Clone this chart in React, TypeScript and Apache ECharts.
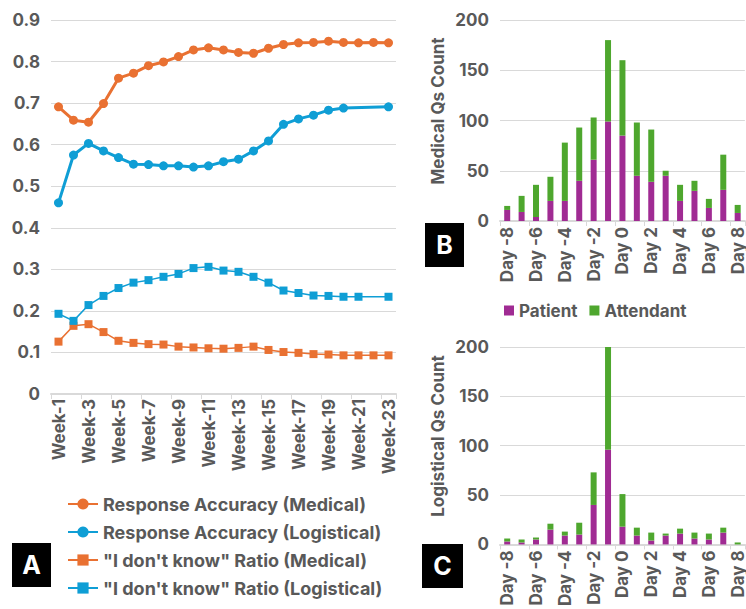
import React, { useEffect, useRef } from "react";
import * as echarts from "echarts";

const weeks = Array.from({ length: 23 }, (_, i) => `Week-${i + 1}`);
const accMedical = [0.691, 0.659, 0.654, 0.699, 0.760, 0.772, 0.790, 0.799, 0.812, 0.828, 0.833, 0.828, 0.822, 0.820, 0.832, 0.841, 0.845, 0.846, 0.849, 0.846, 0.845, 0.846, 0.845];
const accLogistical = [0.46, 0.575, 0.603, 0.585, 0.569, 0.553, 0.552, 0.549, 0.549, 0.546, 0.549, 0.559, 0.565, 0.585, 0.609, 0.649, 0.662, 0.671, 0.683, 0.688, null, null, 0.691];
const idkMedical = [0.126, 0.164, 0.168, 0.149, 0.128, 0.123, 0.120, 0.119, 0.114, 0.112, 0.110, 0.109, 0.111, 0.114, 0.106, 0.101, 0.099, 0.096, 0.095, 0.093, 0.093, 0.093, 0.093];
const idkLogistical = [0.193, 0.176, 0.214, 0.236, 0.255, 0.268, 0.274, 0.282, 0.289, 0.303, 0.306, 0.297, 0.294, 0.282, 0.268, 0.249, 0.243, 0.237, 0.236, 0.234, 0.234, null, 0.234];

const days = Array.from({ length: 17 }, (_, i) => `Day ${i - 8}`);
const medPatient = [11, 9, 4, 20, 20, 40, 61, 99, 85, 45, 39, 45, 20, 30, 13, 31, 8];
const medAttendant = [4, 16, 32, 24, 58, 53, 42, 81, 75, 53, 52, 5, 16, 10, 9, 35, 8];
const logPatient = [3, 2, 5, 15, 9, 10, 40, 96, 18, 9, 4, 9, 11, 6, 5, 12, 0];
const logAttendant = [3, 3, 2, 6, 4, 12, 33, 104, 33, 8, 8, 2, 5, 6, 6, 5, 2];

const ORANGE = "#E97132";
const BLUE = "#0F9ED5";
const PURPLE = "#A02B93";
const GREEN = "#4EA72E";
const TXT = "#595959";
const GRIDC = "#D9D9D9";
const FONT = "Inter";

export default function App() {
  const ref = useRef<HTMLDivElement>(null);
  useEffect(() => {
    if (!ref.current) return;
    const chart = echarts.init(ref.current, undefined, { renderer: "svg" });
    const labelStyle = { color: TXT, fontFamily: FONT, fontWeight: 700, fontSize: 17 };
    const catAxis = (gridIndex: number, data: string[], margin: number) => ({
      type: "category",
      gridIndex,
      data,
      boundaryGap: true,
      axisLine: { show: true, lineStyle: { color: GRIDC, width: 2 } },
      axisTick: { show: true, length: 5, lineStyle: { color: GRIDC } },
      axisLabel: { ...labelStyle, rotate: 90, interval: 1, margin },
    });
    const valAxis = (gridIndex: number, max: number, interval: number) => ({
      type: "value",
      gridIndex,
      min: 0,
      max,
      interval,
      axisLine: { show: false },
      axisTick: { show: false },
      splitLine: { lineStyle: { color: GRIDC, width: 1 } },
      axisLabel: { ...labelStyle, margin: 11 },
    });
    const lineSeries = (name: string, data: any[], color: string, symbol: string, width: number, size: number) => ({
      type: "line",
      name,
      data,
      xAxisIndex: 0,
      yAxisIndex: 0,
      symbol,
      symbolSize: size,
      connectNulls: true,
      lineStyle: { color, width },
      itemStyle: { color },
    });
    const barSeries = (name: string, data: number[], color: string, axis: number, stack: string) => ({
      type: "bar",
      name,
      data,
      xAxisIndex: axis,
      yAxisIndex: axis,
      stack,
      barWidth: 6,
      itemStyle: { color },
    });
    const box = (x: number, y: number, w: number, h: number, t: string) => ({
      type: "group",
      children: [
        { type: "rect", shape: { x, y, width: w, height: h }, style: { fill: "#000" } },
        {
          type: "text",
          x: x + w / 2,
          y: y + h / 2,
          style: { text: t, fill: "#fff", font: `bold 25px ${FONT}`, align: "center", verticalAlign: "middle" },
        },
      ],
    });
    chart.setOption({
      animation: false,
      backgroundColor: "#fff",
      textStyle: { fontFamily: FONT },
      grid: [
        { left: 51, top: 20, width: 345, height: 374 },
        { left: 500, top: 20, width: 251, height: 201 },
        { left: 500, top: 347, width: 251, height: 201 },
      ],
      xAxis: [catAxis(0, weeks, 5), catAxis(1, days, 6), catAxis(2, days, 6)],
      yAxis: [valAxis(0, 0.9, 0.1), valAxis(1, 200, 50), valAxis(2, 200, 50)],
      legend: [
        {
          orient: "vertical",
          left: 62,
          top: 490,
          itemWidth: 30,
          itemHeight: 14,
          itemGap: 10,
          textStyle: { ...labelStyle, fontSize: 18 },
          data: [
            "Response Accuracy (Medical)",
            "Response Accuracy (Logistical)",
            '"I don\'t know" Ratio (Medical)',
            '"I don\'t know" Ratio (Logistical)',
          ],
        },
        {
          orient: "horizontal",
          left: 499,
          top: 297,
          itemWidth: 10,
          itemHeight: 10,
          itemGap: 12,
          icon: "rect",
          textStyle: { ...labelStyle, fontSize: 17 },
          data: ["Patient", "Attendant"],
        },
      ],
      series: [
        lineSeries("Response Accuracy (Medical)", accMedical, ORANGE, "circle", 3, 9),
        lineSeries("Response Accuracy (Logistical)", accLogistical, BLUE, "circle", 3, 9),
        lineSeries('"I don\'t know" Ratio (Medical)', idkMedical, ORANGE, "rect", 1.5, 8),
        lineSeries('"I don\'t know" Ratio (Logistical)', idkLogistical, BLUE, "rect", 1.5, 8),
        barSeries("Patient", medPatient, PURPLE, 1, "B"),
        barSeries("Attendant", medAttendant, GREEN, 1, "B"),
        barSeries("Patient", logPatient, PURPLE, 2, "C"),
        barSeries("Attendant", logAttendant, GREEN, 2, "C"),
      ],
      graphic: [
        {
          type: "text",
          x: 438,
          y: 111,
          rotation: Math.PI / 2,
          style: { text: "Medical Qs Count", fill: TXT, font: `bold 17px ${FONT}`, align: "center", verticalAlign: "middle" },
        },
        {
          type: "text",
          x: 438,
          y: 436,
          rotation: Math.PI / 2,
          style: { text: "Logistical Qs Count", fill: TXT, font: `bold 17px ${FONT}`, align: "center", verticalAlign: "middle" },
        },
        box(12, 543, 39, 44, "A"),
        box(425, 223, 39, 44, "B"),
        box(422, 544, 41, 44, "C"),
      ],
    });
    return () => chart.dispose();
  }, []);
  return <div ref={ref} style={{ position: "fixed", left: 0, top: 0, width: 746, height: 609 }} />;
}
